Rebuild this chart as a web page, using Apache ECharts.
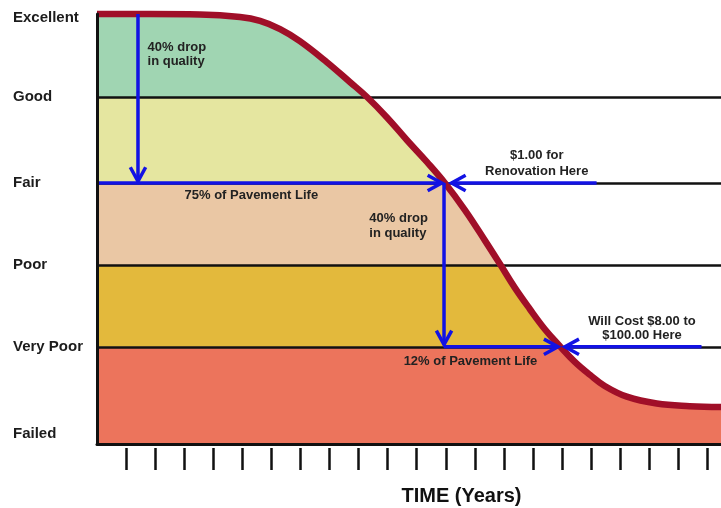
<!DOCTYPE html>
<html>
<head>
<meta charset="utf-8">
<script src="https://cdn.jsdelivr.net/npm/echarts@6/dist/echarts.min.js"></script>
<style>
  html, body { margin: 0; padding: 0; background: #fff; }
  #chart { width: 721px; height: 508px; }
</style>
</head>
<body>
<div id="chart"></div>
<script>
// Pavement condition curve: condition index versus service life in years
const years = [0, 1.82, 3.54, 4.92, 5.61, 6.30, 6.98, 7.91, 8.70, 9.29, 9.97, 10.66, 11.35, 11.97,
  12.66, 13.35, 13.86, 14.38, 14.89, 15.41, 15.92, 16.44, 16.96, 17.47, 18.23, 19.26, 20.39, 21.47];
const condition = [100, 100, 99.9, 99.3, 98.4, 96.5, 93.7, 88.8, 84.2, 80.7, 76.0, 70.7, 65.6, 60.7,
  54.4, 47.3, 41.9, 36.3, 31.4, 26.7, 22.8, 19.1, 16.1, 13.5, 11.0, 9.4, 8.8, 8.6];

// Condition ratings, their band limits and where each rating label sits
const ratingNames = ['Failed', 'Very Poor', 'Poor', 'Fair', 'Good', 'Excellent'];
const bandLimits = [0, 22.6, 41.6, 60.7, 80.7, 100];
const ratingLabelValues = [2.3, 22.6, 41.6, 60.7, 80.7, 99.2];

// Year ticks along the time axis
const tickYears = [1, 2, 3, 4, 5, 6, 7, 8, 9, 10, 11, 12, 13, 14, 15, 16, 17, 18, 19, 20, 21];

// Key points of the pavement life
const renovationYear = 12;
const lateRepairYear = 16;

// Annotation texts
const notes = [
  '40% drop\nin quality',
  '75% of Pavement Life',
  '$1.00 for\nRenovation Here',
  '40% drop\nin quality',
  '12% of Pavement Life',
  'Will Cost $8.00 to\n$100.00 Here'
];

const FAIR = bandLimits[3];
const VERY_POOR = bandLimits[1];
const X_MAX = 21.47;

const bandColors = ['#EC745C', '#E3B93C', '#EAC7A4', '#E5E6A0', '#A0D5B2'];
const BLUE = '#1212E4';
const INK = '#1c1c1c';
const FONT = 'Liberation Sans, Arial, sans-serif';

// Arrow segments [x1, y1, x2 (tip), y2 (tip)]
const arrowSegments = [
  [1.41, 100, 1.41, FAIR + 0.4],
  [0, FAIR, renovationYear - 0.14, FAIR],
  [17.19, FAIR, renovationYear + 0.2, FAIR],
  [11.94, FAIR, 11.94, VERY_POOR + 0.5],
  [11.94, VERY_POOR, lateRepairYear - 0.14, VERY_POOR],
  [20.8, VERY_POOR, lateRepairYear + 0.1, VERY_POOR]
];

// Where each note is anchored, and how it is aligned
const notePlacement = [
  { at: [1.74, 90.5], align: 'left', lh: 14 },
  { at: [5.31, 57.7], align: 'center', lh: 15 },
  { at: [15.13, 65.3], align: 'center', lh: 16 },
  { at: [9.37, 50.7], align: 'left', lh: 15 },
  { at: [12.85, 19.3], align: 'center', lh: 15 },
  { at: [18.75, 26.8], align: 'center', lh: 14 }
];

const curveData = years.map((x, i) => [x, condition[i]]);
const SMOOTH = 0.4;

const chart = echarts.init(document.getElementById('chart'), null, { renderer: 'canvas' });

chart.setOption({
  animation: false,
  backgroundColor: '#fff',
  textStyle: { fontFamily: FONT },
  grid: { left: 97, right: 0, top: 14, bottom: 64, containLabel: false, outerBoundsMode: 'none' },
  xAxis: [
    {
      type: 'value', min: 0, max: X_MAX, z: 10,
      axisLine: { show: true, lineStyle: { color: '#111', width: 3 } },
      axisTick: { show: false }, axisLabel: { show: false }, splitLine: { show: false }
    },
    {
      type: 'value', min: 0, max: X_MAX, position: 'bottom', offset: 4,
      axisLine: { show: false },
      axisTick: { show: true, customValues: tickYears, length: 22, lineStyle: { color: '#111', width: 2.5 } },
      axisLabel: { show: false }, splitLine: { show: false },
      name: 'TIME (Years)', nameLocation: 'middle', nameGap: 38,
      nameTextStyle: { fontSize: 20, fontWeight: 'bold', color: '#111', fontFamily: FONT, padding: [0, 0, 0, 105] }
    }
  ],
  yAxis: {
    type: 'value', min: 0, max: 100, z: 10,
    splitLine: { show: false },
    axisLine: { show: true, lineStyle: { color: '#111', width: 3 } },
    axisTick: { show: false },
    axisLabel: {
      customValues: ratingLabelValues,
      formatter: function (v) {
        let best = 0;
        ratingLabelValues.forEach((r, i) => {
          if (Math.abs(r - v) < Math.abs(ratingLabelValues[best] - v)) best = i;
        });
        return ratingNames[best];
      },
      align: 'left', margin: 84,
      fontSize: 15, fontWeight: 'bold', color: INK, fontFamily: FONT
    }
  },
  series: [
    {
      // colored condition bands
      type: 'line', data: [], z: 1, silent: true,
      markArea: {
        silent: true, z: 1,
        data: bandColors.map((c, i) => [
          { yAxis: bandLimits[i], itemStyle: { color: c } },
          { yAxis: bandLimits[i + 1] }
        ])
      }
    },
    {
      // blank out everything above the condition curve
      type: 'line', data: curveData, z: 2, smooth: SMOOTH,
      showSymbol: false, silent: true,
      lineStyle: { width: 0, opacity: 0 },
      areaStyle: { color: '#fff', opacity: 1, origin: 'end' }
    },
    {
      // rating boundary lines
      type: 'line', data: [], z: 3, silent: true,
      markLine: {
        silent: true, z: 3, symbol: 'none', label: { show: false },
        lineStyle: { color: '#111', width: 2.5, type: 'solid' },
        data: bandLimits.slice(1, 5).map(v => ({ yAxis: v }))
      }
    },
    {
      // condition curve
      type: 'line', data: curveData, z: 4, smooth: SMOOTH,
      showSymbol: false, silent: true, clip: false,
      lineStyle: { color: '#A00F28', width: 6.5, cap: 'butt' }
    },
    {
      // blue arrows
      type: 'custom', z: 5, silent: true, clip: false,
      encode: { x: [0, 2], y: [1, 3] },
      data: arrowSegments,
      renderItem: function (params, api) {
        const a = api.coord([api.value(0), api.value(1)]);
        const b = api.coord([api.value(2), api.value(3)]);
        const ang = Math.atan2(b[1] - a[1], b[0] - a[0]);
        const L = 16, spread = 0.5;
        const p1 = [b[0] - L * Math.cos(ang - spread), b[1] - L * Math.sin(ang - spread)];
        const p2 = [b[0] - L * Math.cos(ang + spread), b[1] - L * Math.sin(ang + spread)];
        return {
          type: 'group',
          children: [
            { type: 'line', shape: { x1: a[0], y1: a[1], x2: b[0], y2: b[1] },
              style: { stroke: BLUE, lineWidth: 3.5 } },
            { type: 'polyline', shape: { points: [p1, b, p2] },
              style: { stroke: BLUE, lineWidth: 3.5, fill: null, lineJoin: 'miter' } }
          ]
        };
      }
    },
    {
      // annotation texts
      type: 'custom', z: 6, silent: true, clip: false,
      encode: { x: 0, y: 1 },
      data: notePlacement.map((n, i) => [n.at[0], n.at[1], i]),
      renderItem: function (params, api) {
        const p = api.coord([api.value(0), api.value(1)]);
        const idx = api.value(2);
        const pl = notePlacement[idx];
        return {
          type: 'text', x: p[0], y: p[1],
          style: {
            text: notes[idx], fill: '#222',
            fontSize: 13, fontWeight: 'bold', fontFamily: FONT,
            align: pl.align, verticalAlign: 'middle', lineHeight: pl.lh
          }
        };
      }
    }
  ]
});
</script>
</body>
</html>
